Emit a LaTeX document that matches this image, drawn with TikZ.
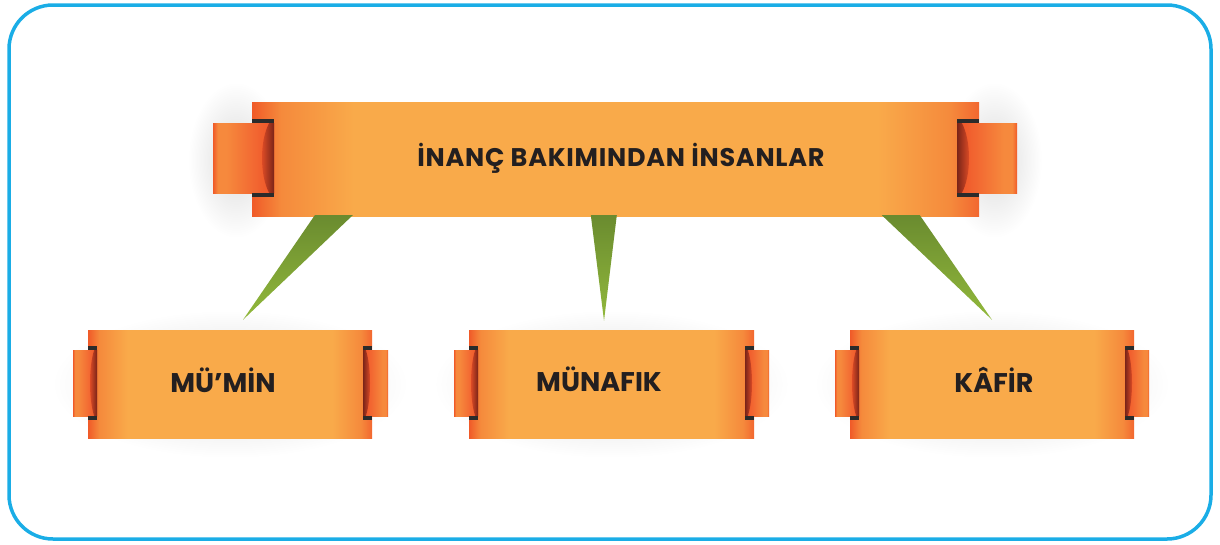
\documentclass[tikz,border=0pt]{standalone}
\usepackage{fontspec}
\newfontfamily\labfont{Poppins}
\newfontfamily\titlefont{Poppins}[LetterSpace=3]
\usetikzlibrary{calc}
\definecolor{framec}{HTML}{1AADE6}
\definecolor{orA}{HTML}{F05A28}
\definecolor{orB}{HTML}{F9AA4A}
\definecolor{orC}{HTML}{F26730}
\definecolor{orD}{HTML}{F58A3C}
\definecolor{tabHi}{HTML}{F6893D}
\definecolor{tabM}{HTML}{F26631}
\definecolor{tabE}{HTML}{EE5228}
\definecolor{darkc}{HTML}{7A2418}
\definecolor{barc}{HTML}{2B2B2B}
\definecolor{leafTop}{HTML}{6A8B2F}
\definecolor{leafBot}{HTML}{92B93C}
\definecolor{inkc}{HTML}{231F20}
\pgfdeclarehorizontalshading{bodyshade}{100bp}{color(0bp)=(orA); color(25bp)=(orA); color(27bp)=(orD); color(32bp)=(orB); color(68bp)=(orB); color(73bp)=(orD); color(75bp)=(orC); color(100bp)=(orC)}
\pgfdeclarehorizontalshading{tabshadeL}{100bp}{color(0bp)=(orA); color(25bp)=(orA); color(29bp)=(tabHi); color(36bp)=(tabHi); color(60bp)=(tabM); color(75bp)=(tabE); color(100bp)=(tabE)}
\pgfdeclarehorizontalshading{tabshadeR}{100bp}{color(0bp)=(tabE); color(25bp)=(tabE); color(40bp)=(tabM); color(64bp)=(tabHi); color(71bp)=(tabHi); color(75bp)=(orA); color(100bp)=(orA)}
\newcommand\tabL[6]{%
  \shade[shading=tabshadeL] (#1,#3) rectangle (#2,#4);
  \shade[left color=tabE, right color=darkc] (#2,#3) -- ({#2-#6*0.4},#3) .. controls ({#2-#6*1.2},{#3+(#4-#3)*0.25}) and ({#2-#6*1.2},{#4-(#4-#3)*0.25}) .. ({#2-#6*0.4},#4) -- (#2,#4) -- cycle;
  \fill[barc] (#5,{#3-4}) rectangle (#2,#3);
  \fill[barc] (#5,#4) rectangle (#2,{#4+4});
}
\newcommand\tabR[6]{%
  \shade[shading=tabshadeR] (#1,#3) rectangle (#2,#4);
  \shade[left color=darkc, right color=tabE] (#1,#3) -- ({#1+#6*0.4},#3) .. controls ({#1+#6*1.2},{#3+(#4-#3)*0.25}) and ({#1+#6*1.2},{#4-(#4-#3)*0.25}) .. ({#1+#6*0.4},#4) -- (#1,#4) -- cycle;
  \fill[barc] (#1,{#3-4}) rectangle (#5,#3);
  \fill[barc] (#1,#4) rectangle (#5,{#4+4});
}
\tikzset{
  body/.style={rectangle, inner sep=0pt, shading=bodyshade},
  haze/.style={inner color=gray!28, outer color=white},
  leaf/.style={top color=leafTop, bottom color=leafBot},
  titletext/.style={anchor=base, inner sep=0pt, text=inkc, font=\titlefont\bfseries\fontsize{25.5}{30}\selectfont},
  labeltext/.style={anchor=base, inner sep=0pt, text=inkc, font=\labfont\bfseries\fontsize{27}{30}\selectfont},
}
\begin{document}
\begin{tikzpicture}[x=1pt,y=-1pt]
\useasboundingbox (0,0) rectangle (1220,544);
% frame
\draw[framec, line width=3.5, rounded corners=44] (9,5) rectangle (1211,539);
% soft shadows
\shade[haze] (236,160) ellipse [x radius=48, y radius=78];
\shade[haze] (994,160) ellipse [x radius=48, y radius=78];
\shade[haze] (230,384) ellipse [x radius=178, y radius=74];
\shade[haze] (611.5,384) ellipse [x radius=178, y radius=74];
\shade[haze] (992,384) ellipse [x radius=178, y radius=74];
% banner bodies
\node[body, minimum width=727, minimum height=114] (top) at (615.5,159) {};
\node[body, minimum width=284, minimum height=108] (mumin) at (230,384) {};
\node[body, minimum width=285, minimum height=108] (munafik) at (611.5,384) {};
\node[body, minimum width=284, minimum height=108] (kafir) at (992,384) {};
% connectors
\shade[leaf] ($(top.south west)+(63,-1)$) -- ($(top.south west)+(101,-1)$) -- ($(mumin.north)+(13,-10)$) -- cycle;
\shade[leaf] ($(top.south west)+(339,-1)$) -- ($(top.south west)+(365,-1)$) -- ($(munafik.north)+(-7.5,-9)$) -- cycle;
\shade[leaf] ($(top.south west)+(630,-1)$) -- ($(top.south west)+(668,-1)$) -- ($(kafir.north)+(0,-10)$) -- cycle;
% tabs
\tabL{213}{274}{123}{193}{252}{12}
\tabR{957}{1017}{123}{193}{979}{12}
\tabL{73}{97}{350}{416}{88}{7}
\tabR{363}{388}{350}{416}{372}{7}
\tabL{454}{478}{350}{416}{469}{7}
\tabR{745}{769}{350}{416}{754}{7}
\tabL{835}{859}{350}{416}{850}{7}
\tabR{1125}{1149}{350}{416}{1134}{7}
% texts
\node[titletext] (tt) at (621,166) {İNANÇ BAKIMINDAN İNSANLAR};
\node[labeltext] (t1) at (223,392) {MÜ’MİN};
\node[labeltext] (t2) at (599,391) {MÜNAFIK};
\node[labeltext] (t3) at (994,392) {KÂFİR};
\end{tikzpicture}
\end{document}
